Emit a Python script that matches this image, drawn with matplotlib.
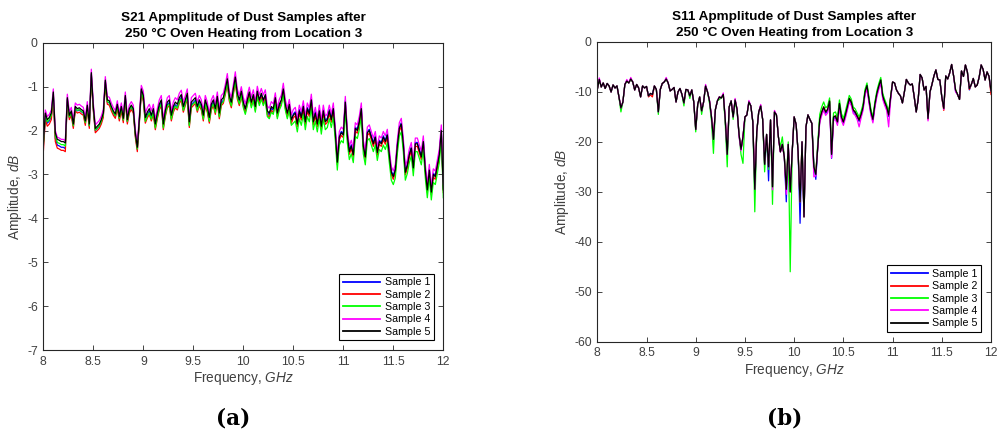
import numpy as np
import matplotlib.pyplot as plt

plt.rcParams['font.family'] = ['Liberation Sans', 'DejaVu Sans']
plt.rcParams['axes.unicode_minus'] = False
plt.rcParams['mathtext.fontset'] = 'custom'
plt.rcParams['mathtext.rm'] = 'Liberation Sans'
plt.rcParams['mathtext.it'] = 'Liberation Sans:italic'

# frequency sweep, 8-12 GHz, 201 points
freq = np.linspace(8.0, 12.0, 201)

sample_names = ['Sample 1', 'Sample 2', 'Sample 3', 'Sample 4', 'Sample 5']
xtick_vals = [8, 8.5, 9, 9.5, 10, 10.5, 11, 11.5, 12]
xtick_labels = ['8', '8.5', '9', '9.5', '10', '10.5', '11', '11.5', '12']
s21_yticks = [0, -1, -2, -3, -4, -5, -6, -7]
s11_yticks = [0, -10, -20, -30, -40, -50, -60]

# ---- S21 amplitude (dB) ----
s21_1 = [
    -2.38, -1.68, -1.83, -1.78, -1.68, -1.20, -2.18, -2.33, -2.35, -2.38,
    -2.38, -2.41, -1.30, -1.70, -1.60, -1.90, -1.50, -1.55, -1.53, -1.57,
    -1.60, -1.83, -1.47, -1.90, -0.73, -1.50, -2.00, -1.95, -1.90, -1.80,
    -1.65, -0.90, -1.35, -1.37, -1.50, -1.60, -1.67, -1.45, -1.73, -1.50,
    -1.77, -1.25, -1.80, -1.55, -1.47, -1.55, -2.10, -2.43, -1.80, -1.10,
    -1.26, -1.76, -1.64, -1.56, -1.71, -1.56, -1.91, -1.66, -1.46, -1.36,
    -1.91, -1.61, -1.41, -1.36, -1.71, -1.51, -1.41, -1.46, -1.31, -1.24,
    -1.51, -1.36, -1.21, -1.86, -1.41, -1.36, -1.31, -1.51, -1.36, -1.46,
    -1.71, -1.36, -1.51, -1.76, -1.46, -1.36, -1.56, -1.28, -1.66, -1.36,
    -1.31, -1.11, -0.88, -1.26, -1.41, -1.11, -0.84, -1.21, -1.36, -1.16,
    -1.39, -1.54, -1.34, -1.16, -1.39, -1.22, -1.49, -1.14, -1.34, -1.19,
    -1.34, -1.22, -1.59, -1.64, -1.49, -1.54, -1.29, -1.64, -1.44, -1.34,
    -1.09, -1.44, -1.64, -1.44, -1.79, -1.62, -1.57, -1.82, -1.52, -1.67,
    -1.42, -1.77, -1.47, -1.59, -1.27, -1.77, -1.57, -1.82, -1.52, -1.87,
    -1.52, -1.77, -1.72, -1.52, -1.72, -1.47, -2.02, -2.69, -2.12, -2.02,
    -2.07, -1.32, -2.07, -2.45, -2.32, -2.52, -1.92, -1.97, -1.77, -1.47,
    -2.32, -2.57, -2.02, -1.97, -2.12, -2.27, -2.12, -2.47, -2.22, -2.27,
    -2.12, -2.22, -2.07, -2.52, -2.92, -3.02, -2.87, -2.32, -1.92, -1.82,
    -2.27, -2.92, -2.77, -2.52, -2.37, -2.82, -2.27, -2.27, -2.42, -2.57,
    -2.22, -2.87, -3.32, -2.87, -3.37, -2.97, -3.02, -2.77, -2.52, -1.97,
    -3.32]
s21_2 = [
    -2.50, -1.75, -1.90, -1.85, -1.75, -1.27, -2.25, -2.40, -2.42, -2.45,
    -2.45, -2.48, -1.35, -1.75, -1.65, -1.95, -1.55, -1.60, -1.58, -1.62,
    -1.65, -1.88, -1.52, -1.95, -0.78, -1.55, -2.05, -2.00, -1.95, -1.85,
    -1.70, -0.95, -1.40, -1.42, -1.55, -1.65, -1.72, -1.50, -1.78, -1.55,
    -1.82, -1.30, -1.85, -1.60, -1.52, -1.60, -2.15, -2.48, -1.85, -1.15,
    -1.33, -1.83, -1.71, -1.63, -1.78, -1.63, -1.98, -1.73, -1.53, -1.43,
    -1.98, -1.68, -1.48, -1.43, -1.78, -1.58, -1.48, -1.53, -1.38, -1.31,
    -1.58, -1.43, -1.28, -1.93, -1.48, -1.43, -1.38, -1.58, -1.43, -1.53,
    -1.78, -1.43, -1.58, -1.83, -1.53, -1.43, -1.63, -1.35, -1.73, -1.43,
    -1.38, -1.18, -0.95, -1.33, -1.48, -1.18, -0.91, -1.28, -1.43, -1.23,
    -1.44, -1.59, -1.39, -1.21, -1.44, -1.27, -1.54, -1.19, -1.39, -1.24,
    -1.39, -1.27, -1.64, -1.69, -1.54, -1.59, -1.34, -1.69, -1.49, -1.39,
    -1.14, -1.49, -1.69, -1.49, -1.84, -1.71, -1.66, -1.91, -1.61, -1.76,
    -1.51, -1.86, -1.56, -1.68, -1.36, -1.86, -1.66, -1.91, -1.61, -1.96,
    -1.61, -1.86, -1.81, -1.61, -1.81, -1.56, -2.11, -2.78, -2.21, -2.11,
    -2.16, -1.41, -2.16, -2.54, -2.41, -2.61, -2.01, -2.06, -1.86, -1.56,
    -2.41, -2.66, -2.11, -2.06, -2.21, -2.36, -2.21, -2.56, -2.31, -2.36,
    -2.21, -2.31, -2.16, -2.61, -3.01, -3.11, -2.96, -2.41, -2.01, -1.91,
    -2.36, -3.01, -2.86, -2.61, -2.46, -2.91, -2.36, -2.36, -2.51, -2.66,
    -2.31, -2.96, -3.41, -2.96, -3.46, -3.06, -3.11, -2.86, -2.61, -2.06,
    -3.41]
s21_3 = [
    -2.35, -1.65, -1.80, -1.75, -1.65, -1.17, -2.12, -2.27, -2.29, -2.32,
    -2.32, -2.35, -1.29, -1.69, -1.59, -1.89, -1.49, -1.54, -1.52, -1.56,
    -1.59, -1.82, -1.46, -1.89, -0.72, -1.49, -1.99, -1.94, -1.89, -1.79,
    -1.64, -0.89, -1.34, -1.36, -1.49, -1.59, -1.66, -1.44, -1.72, -1.49,
    -1.76, -1.24, -1.79, -1.54, -1.46, -1.54, -2.09, -2.42, -1.79, -1.09,
    -1.29, -1.79, -1.67, -1.59, -1.74, -1.59, -1.94, -1.69, -1.49, -1.39,
    -1.94, -1.64, -1.44, -1.39, -1.74, -1.54, -1.44, -1.49, -1.34, -1.27,
    -1.54, -1.39, -1.24, -1.89, -1.44, -1.39, -1.34, -1.54, -1.39, -1.49,
    -1.74, -1.39, -1.54, -1.79, -1.49, -1.39, -1.59, -1.31, -1.69, -1.39,
    -1.34, -1.14, -0.91, -1.29, -1.44, -1.14, -0.87, -1.24, -1.39, -1.19,
    -1.48, -1.63, -1.43, -1.25, -1.48, -1.31, -1.58, -1.23, -1.43, -1.28,
    -1.43, -1.31, -1.68, -1.73, -1.58, -1.63, -1.38, -1.73, -1.53, -1.43,
    -1.18, -1.53, -1.73, -1.53, -1.88, -1.83, -1.78, -2.03, -1.73, -1.88,
    -1.63, -1.98, -1.68, -1.80, -1.48, -1.98, -1.78, -2.03, -1.73, -2.08,
    -1.73, -1.98, -1.93, -1.73, -1.93, -1.68, -2.23, -2.90, -2.33, -2.23,
    -2.28, -1.53, -2.28, -2.66, -2.53, -2.73, -2.13, -2.18, -1.98, -1.68,
    -2.53, -2.78, -2.23, -2.18, -2.33, -2.48, -2.33, -2.68, -2.43, -2.48,
    -2.33, -2.43, -2.28, -2.73, -3.13, -3.23, -3.08, -2.53, -2.13, -2.03,
    -2.48, -3.13, -2.98, -2.73, -2.58, -3.03, -2.48, -2.48, -2.63, -2.78,
    -2.43, -3.08, -3.53, -3.08, -3.58, -3.18, -3.23, -2.98, -2.73, -2.18,
    -3.53]
s21_4 = [
    -2.23, -1.53, -1.68, -1.63, -1.53, -1.05, -2.00, -2.15, -2.17, -2.20,
    -2.20, -2.23, -1.17, -1.57, -1.47, -1.77, -1.37, -1.42, -1.40, -1.44,
    -1.47, -1.70, -1.34, -1.77, -0.60, -1.37, -1.87, -1.82, -1.77, -1.67,
    -1.52, -0.77, -1.22, -1.24, -1.37, -1.47, -1.54, -1.32, -1.60, -1.37,
    -1.64, -1.12, -1.67, -1.42, -1.34, -1.42, -1.97, -2.30, -1.67, -0.97,
    -1.10, -1.60, -1.48, -1.40, -1.55, -1.40, -1.75, -1.50, -1.30, -1.20,
    -1.75, -1.45, -1.25, -1.20, -1.55, -1.35, -1.25, -1.30, -1.15, -1.08,
    -1.35, -1.20, -1.05, -1.70, -1.25, -1.20, -1.15, -1.35, -1.20, -1.30,
    -1.55, -1.20, -1.35, -1.60, -1.30, -1.20, -1.40, -1.12, -1.50, -1.20,
    -1.15, -0.95, -0.70, -1.10, -1.25, -0.95, -0.66, -1.05, -1.20, -1.00,
    -1.24, -1.39, -1.19, -1.01, -1.24, -1.07, -1.34, -0.99, -1.19, -1.04,
    -1.19, -1.07, -1.44, -1.49, -1.34, -1.39, -1.14, -1.49, -1.29, -1.19,
    -0.92, -1.29, -1.49, -1.29, -1.64, -1.52, -1.47, -1.72, -1.42, -1.57,
    -1.32, -1.67, -1.37, -1.49, -1.17, -1.67, -1.47, -1.72, -1.42, -1.77,
    -1.42, -1.67, -1.62, -1.42, -1.62, -1.37, -1.92, -2.59, -2.02, -1.92,
    -1.97, -1.22, -1.97, -2.35, -2.22, -2.42, -1.82, -1.87, -1.67, -1.37,
    -2.22, -2.47, -1.92, -1.87, -2.02, -2.17, -2.02, -2.37, -2.12, -2.17,
    -2.02, -2.12, -1.97, -2.42, -2.82, -2.92, -2.77, -2.22, -1.82, -1.72,
    -2.17, -2.82, -2.67, -2.42, -2.27, -2.72, -2.17, -2.17, -2.32, -2.47,
    -2.12, -2.77, -3.22, -2.77, -3.27, -2.87, -2.92, -2.67, -2.42, -1.87,
    -3.22]
s21_5 = [
    -2.30, -1.60, -1.75, -1.70, -1.60, -1.12, -2.05, -2.20, -2.22, -2.25,
    -2.25, -2.28, -1.25, -1.65, -1.55, -1.85, -1.45, -1.50, -1.48, -1.52,
    -1.55, -1.78, -1.42, -1.85, -0.68, -1.45, -1.95, -1.90, -1.85, -1.75,
    -1.60, -0.85, -1.30, -1.32, -1.45, -1.55, -1.62, -1.40, -1.68, -1.45,
    -1.72, -1.20, -1.75, -1.50, -1.42, -1.50, -2.05, -2.38, -1.75, -1.05,
    -1.20, -1.70, -1.58, -1.50, -1.65, -1.50, -1.85, -1.60, -1.40, -1.30,
    -1.85, -1.55, -1.35, -1.30, -1.65, -1.45, -1.35, -1.40, -1.25, -1.18,
    -1.45, -1.30, -1.15, -1.80, -1.35, -1.30, -1.25, -1.45, -1.30, -1.40,
    -1.65, -1.30, -1.45, -1.70, -1.40, -1.30, -1.50, -1.22, -1.60, -1.30,
    -1.25, -1.05, -0.82, -1.20, -1.35, -1.05, -0.78, -1.15, -1.30, -1.10,
    -1.35, -1.50, -1.30, -1.12, -1.35, -1.18, -1.45, -1.10, -1.30, -1.15,
    -1.30, -1.18, -1.55, -1.60, -1.45, -1.50, -1.25, -1.60, -1.40, -1.30,
    -1.05, -1.40, -1.60, -1.40, -1.75, -1.65, -1.60, -1.85, -1.55, -1.70,
    -1.45, -1.80, -1.50, -1.62, -1.30, -1.80, -1.60, -1.85, -1.55, -1.90,
    -1.55, -1.80, -1.75, -1.55, -1.75, -1.50, -2.05, -2.72, -2.15, -2.05,
    -2.10, -1.35, -2.10, -2.48, -2.35, -2.55, -1.95, -2.00, -1.80, -1.50,
    -2.35, -2.60, -2.05, -2.00, -2.15, -2.30, -2.15, -2.50, -2.25, -2.30,
    -2.15, -2.25, -2.10, -2.55, -2.95, -3.05, -2.90, -2.35, -1.95, -1.85,
    -2.30, -2.95, -2.80, -2.55, -2.40, -2.85, -2.30, -2.30, -2.45, -2.60,
    -2.25, -2.90, -3.35, -2.90, -3.40, -3.00, -3.05, -2.80, -2.55, -2.00,
    -3.35]

# ---- S11 amplitude (dB) ----
s11_1 = [
    -9.5, -7.5, -9.0, -8.2, -9.3, -8.3, -8.8, -10.0, -8.6, -9.2,
    -8.8, -11.0, -13.2, -12.0, -8.5, -7.8, -8.2, -7.4, -8.0, -9.6,
    -8.5, -9.2, -11.0, -8.8, -9.2, -8.9, -10.8, -10.3, -10.5, -8.8,
    -9.5, -14.0, -9.5, -8.3, -8.0, -7.4, -8.2, -9.8, -9.5, -9.1,
    -12.0, -10.0, -9.3, -10.5, -12.2, -9.5, -9.6, -10.8, -9.6, -12.0,
    -17.5, -12.5, -11.0, -13.8, -12.0, -8.8, -10.0, -11.8, -15.0, -19.5,
    -13.5, -11.8, -11.0, -11.2, -10.5, -15.5, -22.5, -13.0, -11.8, -15.0,
    -11.6, -13.5, -18.5, -21.5, -19.0, -15.0, -14.6, -12.0, -12.8, -16.0,
    -29.5, -18.0, -14.0, -12.8, -15.5, -24.5, -18.5, -27.8, -15.6, -29.0,
    -14.0, -14.6, -19.0, -22.0, -20.5, -23.0, -32.0, -20.5, -30.0, -22.0,
    -15.0, -16.5, -22.0, -36.3, -20.0, -35.0, -17.0, -14.6, -15.5, -16.3,
    -24.5, -27.5, -21.0, -15.7, -14.2, -13.2, -14.3, -13.8, -12.0, -23.3,
    -15.3, -15.1, -16.3, -12.6, -15.3, -16.3, -14.9, -13.3, -11.6, -12.3,
    -13.9, -14.3, -15.1, -15.9, -14.8, -13.3, -10.3, -9.0, -11.8, -14.3,
    -15.8, -12.8, -10.6, -9.1, -7.9, -11.1, -12.3, -13.3, -14.9, -11.3,
    -8.0, -8.2, -9.6, -10.3, -10.8, -12.2, -10.0, -7.5, -8.2, -8.6,
    -8.4, -11.0, -14.0, -11.5, -6.5, -7.2, -9.6, -8.9, -15.3, -10.0,
    -8.5, -6.8, -5.6, -7.5, -7.6, -11.0, -13.3, -6.8, -7.4, -6.2,
    -4.5, -6.8, -9.9, -10.5, -11.5, -5.8, -6.9, -4.6, -6.0, -9.6,
    -8.5, -7.3, -9.0, -8.6, -7.0, -4.6, -5.5, -7.6, -6.0, -6.9,
    -9.8]
s11_2 = [
    -9.5, -7.5, -9.0, -8.2, -9.3, -8.3, -8.8, -10.0, -8.6, -9.2,
    -8.8, -11.0, -13.2, -12.0, -8.5, -7.8, -8.2, -7.4, -8.0, -9.6,
    -8.5, -9.2, -11.0, -8.8, -9.2, -8.9, -11.0, -10.6, -11.0, -8.8,
    -9.5, -13.8, -9.5, -8.3, -8.0, -7.4, -8.2, -9.8, -9.5, -9.1,
    -12.0, -10.0, -9.3, -10.5, -12.2, -9.5, -9.6, -10.8, -9.6, -12.0,
    -17.5, -12.5, -11.0, -13.8, -12.0, -8.8, -10.0, -11.8, -15.0, -19.0,
    -13.5, -11.8, -11.0, -11.2, -10.5, -15.5, -22.0, -13.0, -11.8, -15.0,
    -11.6, -13.5, -18.5, -21.5, -19.0, -15.0, -14.6, -12.0, -12.8, -16.0,
    -28.5, -18.0, -14.0, -12.8, -15.5, -24.5, -18.5, -25.0, -15.6, -29.0,
    -14.0, -14.6, -19.0, -22.0, -20.5, -23.0, -29.5, -20.5, -30.0, -22.0,
    -15.0, -16.5, -22.0, -32.0, -20.0, -35.0, -17.0, -14.6, -15.5, -16.3,
    -25.5, -26.0, -21.0, -15.5, -14.0, -13.0, -14.0, -13.5, -11.8, -22.5,
    -15.0, -14.8, -16.0, -12.3, -15.0, -16.0, -14.6, -13.0, -11.3, -12.0,
    -13.6, -14.0, -14.8, -15.6, -14.5, -13.0, -10.0, -8.7, -11.5, -14.0,
    -15.5, -12.5, -10.3, -8.8, -7.6, -10.8, -12.0, -13.0, -14.6, -11.0,
    -8.0, -8.2, -9.6, -10.3, -10.8, -12.2, -10.0, -7.5, -8.2, -8.6,
    -8.4, -11.0, -14.0, -11.5, -6.5, -7.2, -9.6, -8.9, -15.5, -10.0,
    -8.5, -6.8, -5.6, -7.5, -7.6, -11.0, -13.7, -6.8, -7.4, -6.2,
    -4.5, -6.8, -9.6, -10.5, -11.5, -5.8, -6.9, -4.6, -6.0, -9.5,
    -8.5, -7.3, -9.0, -8.6, -7.0, -4.6, -5.5, -7.6, -6.0, -6.9,
    -10.5]
s11_3 = [
    -9.5, -7.5, -9.0, -8.2, -9.3, -8.3, -8.8, -10.0, -8.6, -9.2,
    -8.8, -11.0, -14.0, -12.0, -8.5, -7.8, -8.2, -7.4, -8.0, -9.6,
    -8.5, -9.2, -11.0, -8.8, -9.2, -8.9, -10.8, -10.3, -10.5, -8.8,
    -9.5, -14.5, -9.5, -8.3, -8.0, -7.4, -8.2, -9.8, -9.5, -9.1,
    -12.0, -10.0, -9.3, -10.5, -12.8, -9.5, -9.6, -11.3, -9.6, -12.0,
    -18.0, -12.5, -11.0, -14.5, -12.0, -8.8, -10.0, -12.3, -15.8, -22.3,
    -13.5, -11.8, -11.5, -11.2, -10.5, -16.5, -25.0, -13.0, -11.8, -15.5,
    -11.6, -14.0, -18.5, -22.5, -24.3, -15.0, -14.6, -12.0, -12.8, -16.0,
    -34.0, -18.0, -14.0, -12.8, -15.5, -26.0, -18.5, -25.5, -15.6, -32.5,
    -14.0, -14.6, -19.0, -21.0, -19.0, -23.0, -28.5, -20.0, -46.0, -22.0,
    -15.0, -16.5, -22.0, -32.0, -20.0, -35.0, -17.0, -14.6, -15.5, -16.3,
    -25.0, -26.5, -20.0, -14.5, -13.0, -12.0, -13.2, -12.8, -11.2, -21.5,
    -14.2, -14.0, -15.2, -11.6, -14.3, -15.3, -13.9, -12.3, -10.7, -11.4,
    -13.0, -13.4, -14.2, -15.0, -13.9, -12.4, -9.5, -8.2, -11.0, -13.5,
    -15.0, -12.0, -9.8, -8.3, -7.1, -10.3, -11.5, -12.5, -14.0, -11.0,
    -8.0, -8.2, -9.6, -10.3, -10.8, -12.2, -10.0, -7.5, -8.2, -8.6,
    -8.4, -11.0, -14.0, -11.5, -6.5, -7.2, -9.6, -8.9, -15.3, -10.0,
    -8.5, -6.8, -5.6, -7.5, -7.6, -11.0, -13.3, -6.8, -7.4, -6.2,
    -4.5, -6.8, -9.6, -10.5, -11.5, -5.8, -6.9, -4.6, -6.0, -9.3,
    -8.5, -7.3, -9.0, -8.6, -7.0, -4.6, -5.5, -7.6, -6.0, -6.9,
    -9.8]
s11_4 = [
    -9.5, -7.2, -9.0, -8.2, -9.3, -8.3, -8.8, -10.0, -8.6, -9.2,
    -8.8, -11.0, -13.2, -12.0, -8.5, -7.5, -8.2, -7.1, -8.0, -9.6,
    -8.5, -9.2, -11.0, -8.8, -9.2, -8.9, -10.8, -10.3, -10.5, -8.8,
    -9.5, -14.0, -9.5, -8.3, -8.0, -7.1, -8.2, -9.8, -9.5, -9.1,
    -12.0, -10.0, -9.3, -10.5, -12.2, -9.5, -9.6, -10.8, -9.6, -12.0,
    -17.5, -12.5, -11.0, -13.8, -12.0, -8.5, -10.0, -11.8, -15.0, -19.5,
    -13.5, -11.8, -11.0, -11.2, -10.2, -15.5, -22.5, -13.0, -11.8, -15.0,
    -11.3, -13.5, -19.0, -21.8, -19.0, -15.0, -14.6, -11.7, -12.8, -16.0,
    -29.5, -18.0, -14.0, -12.5, -15.5, -24.5, -18.5, -25.0, -15.6, -29.6,
    -13.7, -14.6, -19.0, -22.0, -20.5, -23.0, -30.5, -20.5, -30.0, -22.0,
    -15.0, -16.5, -22.0, -32.0, -20.0, -35.0, -17.0, -14.6, -15.5, -16.3,
    -27.0, -26.8, -21.0, -16.2, -14.7, -13.7, -14.7, -14.2, -12.5, -23.2,
    -15.7, -15.5, -16.7, -13.0, -15.7, -16.7, -15.3, -13.7, -12.0, -12.7,
    -14.3, -14.7, -15.5, -17.0, -15.2, -13.7, -10.7, -9.4, -12.2, -14.7,
    -16.2, -13.2, -11.0, -9.5, -8.3, -11.5, -12.7, -13.7, -17.0, -11.7,
    -8.0, -8.2, -9.6, -10.3, -10.8, -12.2, -10.0, -7.5, -8.2, -8.6,
    -8.4, -11.0, -14.0, -11.5, -6.5, -7.2, -9.6, -8.9, -15.8, -10.0,
    -8.5, -6.8, -5.6, -7.5, -7.6, -11.0, -13.5, -6.8, -7.4, -6.2,
    -4.5, -6.8, -10.0, -10.5, -11.5, -5.8, -6.9, -4.6, -6.0, -9.3,
    -8.5, -7.3, -9.0, -8.6, -7.0, -4.6, -5.5, -7.6, -6.0, -6.9,
    -9.8]
s11_5 = [
    -9.5, -7.5, -9.0, -8.2, -9.3, -8.3, -8.8, -10.0, -8.6, -9.2,
    -8.8, -11.0, -13.2, -12.0, -8.5, -7.8, -8.2, -7.4, -8.0, -9.6,
    -8.5, -9.2, -11.0, -8.8, -9.2, -8.9, -10.8, -10.3, -10.5, -8.8,
    -9.5, -14.0, -9.5, -8.3, -8.0, -7.4, -8.2, -9.8, -9.5, -9.1,
    -12.0, -10.0, -9.3, -10.5, -12.2, -9.5, -9.6, -10.8, -9.6, -12.0,
    -17.5, -12.5, -11.0, -13.8, -12.0, -8.8, -10.0, -11.8, -15.0, -19.5,
    -13.5, -11.8, -11.0, -11.2, -10.5, -15.5, -22.5, -13.0, -11.8, -15.0,
    -11.6, -13.5, -18.5, -21.5, -19.0, -15.0, -14.6, -12.0, -12.8, -16.0,
    -29.5, -18.0, -14.0, -12.8, -15.5, -24.5, -18.5, -25.0, -15.6, -29.0,
    -14.0, -14.6, -19.0, -22.0, -20.5, -23.0, -29.5, -20.5, -30.0, -22.0,
    -15.0, -16.5, -22.0, -32.0, -20.0, -35.0, -17.0, -14.6, -15.5, -16.3,
    -25.0, -26.5, -21.0, -15.5, -14.0, -13.0, -14.0, -13.5, -11.8, -22.5,
    -15.0, -14.8, -16.0, -12.3, -15.0, -16.0, -14.6, -13.0, -11.3, -12.0,
    -13.6, -14.0, -14.8, -15.6, -14.5, -13.0, -10.0, -8.7, -11.5, -14.0,
    -15.5, -12.5, -10.3, -8.8, -7.6, -10.8, -12.0, -13.0, -14.6, -11.0,
    -8.0, -8.2, -9.6, -10.3, -10.8, -12.2, -10.0, -7.5, -8.2, -8.6,
    -8.4, -11.0, -14.0, -11.5, -6.5, -7.2, -9.6, -8.9, -15.3, -10.0,
    -8.5, -6.8, -5.6, -7.5, -7.6, -11.0, -13.3, -6.8, -7.4, -6.2,
    -4.5, -6.8, -9.6, -10.5, -11.5, -5.8, -6.9, -4.6, -6.0, -9.3,
    -8.5, -7.3, -9.0, -8.6, -7.0, -4.6, -5.5, -7.6, -6.0, -6.9,
    -9.8]

colors = ['#0000ff', '#ff0000', '#00ff00', '#ff00ff', '#000000']
axis_grey = '#262626'
label_grey = '#404040'


def draw_panel(ax, traces, title, yticks):
    for vals, name, c in zip(traces, sample_names, colors):
        ax.plot(freq, vals, color=c, lw=0.9, label=name)
    ax.set_xlim(8, 12)
    ax.set_ylim(yticks[-1], yticks[0])
    ax.set_xticks(xtick_vals)
    ax.set_xticklabels(xtick_labels)
    ax.set_yticks(yticks)
    ax.tick_params(direction='in', top=True, right=True, length=3.5, width=0.6,
                   labelsize=8.8, colors=axis_grey, labelcolor=label_grey, pad=4)
    for sp in ax.spines.values():
        sp.set_color(axis_grey)
        sp.set_linewidth(0.8)
    ax.set_title(title, fontsize=9.7, fontweight='bold', pad=4, linespacing=1.45)
    ax.set_xlabel('Frequency, $\\mathit{GHz}$', fontsize=9.8, color=label_grey, labelpad=2)
    ax.set_ylabel('Amplitude, $\\mathit{dB}$', fontsize=9.8, color=label_grey, labelpad=2)
    leg = ax.legend(loc='lower right', fontsize=7.7, handlelength=3.5, labelspacing=0.22,
                    borderaxespad=0.9, borderpad=0.35, handletextpad=0.4,
                    fancybox=False, framealpha=1)
    leg.get_frame().set_edgecolor('black')
    leg.get_frame().set_linewidth(0.8)
    for ln in leg.get_lines():
        ln.set_linewidth(1.3)


fig = plt.figure(figsize=(9.98, 4.37), dpi=100)
ax1 = fig.add_axes([0.0434, 0.199, 0.4008, 0.703])
ax2 = fig.add_axes([0.5985, 0.2181, 0.3945, 0.6858])

draw_panel(ax1, [s21_1, s21_2, s21_3, s21_4, s21_5],
           'S21 Apmplitude of Dust Samples after\n250 \u00b0C Oven Heating from Location 3', s21_yticks)
draw_panel(ax2, [s11_1, s11_2, s11_3, s11_4, s11_5],
           'S11 Apmplitude of Dust Samples after\n250 \u00b0C Oven Heating from Location 3', s11_yticks)

fig.text(0.2335, 0.043, '(a)', ha='center', va='center', fontsize=15.5,
         fontweight='bold', family='DejaVu Serif')
fig.text(0.786, 0.043, '(b)', ha='center', va='center', fontsize=15.5,
         fontweight='bold', family='DejaVu Serif')

fig.savefig('out.png', dpi=100)
